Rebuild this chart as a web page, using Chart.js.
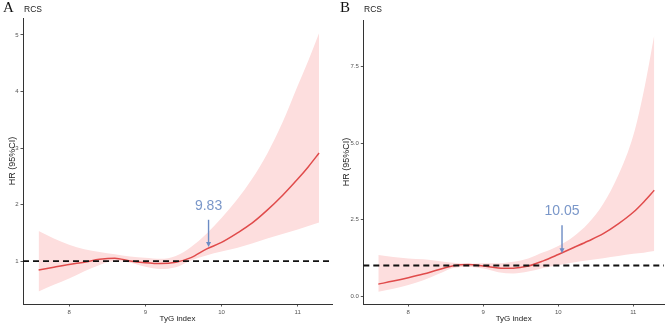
<!DOCTYPE html>
<html>
<head>
<meta charset="utf-8">
<script src="https://cdn.jsdelivr.net/npm/chart.js@4.4.1/dist/chart.umd.min.js"></script>
<style>
body { margin: 0; background: #fff; }
#wrap { position: relative; width: 669px; height: 327px; overflow: hidden; }
canvas { position: absolute; top: 0; }
.panel { position: absolute; top: 0; font-family: "Liberation Serif", serif; font-size: 15px; line-height: 14px; color: #111; }
.tag { position: absolute; top: 5px; font-family: "Liberation Sans", Arial, sans-serif; font-size: 8.5px; line-height: 8px; color: #222; }
</style>
</head>
<body>
<div id="wrap">
  <canvas id="chartA" width="334" height="327" style="left:0px"></canvas>
  <canvas id="chartB" width="335" height="327" style="left:334px"></canvas>
  <div class="panel" style="left:3px">A</div>
  <div class="tag" style="left:24px">RCS</div>
  <div class="panel" style="left:340px">B</div>
  <div class="tag" style="left:364px">RCS</div>
</div>
<script>
// TyG index grid the curves were read on
const tyg = [7.6, 7.8, 8.0, 8.2, 8.4, 8.6, 8.8, 9.0, 9.2, 9.4, 9.6, 9.8, 10.0, 10.2, 10.4, 10.6, 10.8, 11.0, 11.14, 11.28];

// panel A
const hrA    = [0.84, 0.89, 0.94, 0.98, 1.03, 1.05, 1.00, 0.97, 0.955, 0.98, 1.06, 1.21, 1.33, 1.49, 1.67, 1.90, 2.16, 2.45, 2.67, 2.91];
const upperA = [1.53, 1.40, 1.29, 1.21, 1.16, 1.12, 1.08, 1.06, 1.04, 1.09, 1.25, 1.48, 1.76, 2.08, 2.45, 2.90, 3.45, 4.10, 4.55, 5.03];
const lowerA = [0.46, 0.58, 0.69, 0.82, 0.93, 1.00, 0.97, 0.90, 0.86, 0.89, 1.01, 1.10, 1.17, 1.23, 1.31, 1.40, 1.48, 1.56, 1.62, 1.68];

// panel B
const hrB    = [0.39, 0.49, 0.60, 0.72, 0.86, 0.99, 1.03, 0.98, 0.92, 0.91, 0.98, 1.15, 1.36, 1.58, 1.80, 2.04, 2.36, 2.74, 3.08, 3.46];
const upperB = [1.34, 1.28, 1.23, 1.20, 1.15, 1.09, 1.06, 1.07, 1.07, 1.12, 1.23, 1.43, 1.64, 1.94, 2.38, 3.02, 3.95, 5.25, 6.70, 8.53];
const lowerB = [0.14, 0.24, 0.36, 0.52, 0.72, 0.92, 0.95, 0.90, 0.78, 0.74, 0.80, 0.92, 1.01, 1.10, 1.17, 1.24, 1.31, 1.38, 1.42, 1.47];

const xTicks = [8, 9, 10, 11];
const yTicksA = [1, 2, 3, 4, 5];
const yTicksB = [0, 2.5, 5, 7.5];
const refHR = 1;

const cutA = 9.83;
const cutB = 10.05;

const sans = '"Liberation Sans", Arial, sans-serif';

const cutoffPlugin = {
    id: "cutoff",
    afterDatasetsDraw(chart, args, opts) {
        const { ctx, scales: { x, y } } = chart;
        const px = x.getPixelForValue(opts.at);
        const yText = y.getPixelForValue(opts.labelY);
        const y0 = y.getPixelForValue(opts.from);
        const y1 = y.getPixelForValue(opts.to);
        ctx.save();
        ctx.fillStyle = "#7a97c9";
        ctx.font = "14px " + sans;
        ctx.textAlign = "center";
        ctx.textBaseline = "middle";
        ctx.fillText(opts.text, px, yText);
        ctx.strokeStyle = "#6c8bc4";
        ctx.fillStyle = "#6c8bc4";
        ctx.lineWidth = 1.4;
        ctx.beginPath();
        ctx.moveTo(px, y0);
        ctx.lineTo(px, y1 - 4);
        ctx.stroke();
        ctx.beginPath();
        ctx.moveTo(px - 2.5, y1 - 5);
        ctx.lineTo(px + 2.5, y1 - 5);
        ctx.lineTo(px, y1);
        ctx.closePath();
        ctx.fill();
        ctx.restore();
    }
};

function pts(arr) {
    return tyg.map((x, i) => ({ x: x, y: arr[i] }));
}

function makeChart(id, c) {
    return new Chart(document.getElementById(id).getContext("2d"), {
        type: "line",
        data: {
            datasets: [
                {
                    data: [{ x: c.xMin, y: refHR }, { x: c.xMax, y: refHR }],
                    borderColor: "#111",
                    borderWidth: 1.8,
                    borderDash: [6, 4],
                    pointRadius: 0,
                    fill: false
                },
                {
                    data: pts(c.hr),
                    borderColor: "#e04b4b",
                    borderWidth: 1.5,
                    pointRadius: 0,
                    cubicInterpolationMode: "monotone",
                    fill: false
                },
                {
                    data: pts(c.upper),
                    borderColor: "rgba(0,0,0,0)",
                    backgroundColor: "#fddede",
                    pointRadius: 0,
                    cubicInterpolationMode: "monotone",
                    fill: "+1"
                },
                {
                    data: pts(c.lower),
                    borderColor: "rgba(0,0,0,0)",
                    pointRadius: 0,
                    cubicInterpolationMode: "monotone",
                    fill: false
                }
            ]
        },
        options: {
            responsive: false,
            animation: false,
            layout: { padding: { left: 0, right: c.padRight, top: c.padTop, bottom: 0 } },
            plugins: {
                legend: { display: false },
                tooltip: { enabled: false },
                cutoff: c.cutoff
            },
            scales: {
                x: {
                    type: "linear",
                    min: c.xMin,
                    max: c.xMax,
                    border: { display: true, color: "#333", width: 1 },
                    grid: { drawOnChartArea: false, drawTicks: true, tickLength: 2.5, color: "#555" },
                    ticks: { font: { size: 6, family: sans }, color: "#555", padding: 2, maxRotation: 0, autoSkip: false },
                    title: { display: true, text: "TyG index", color: "#222", font: { size: 8, family: sans }, padding: { top: 0, bottom: 3 } },
                    afterBuildTicks: s => { s.ticks = xTicks.map(v => ({ value: v })); },
                    afterFit: s => { s.height = 23; }
                },
                y: {
                    type: "linear",
                    min: c.yMin,
                    max: c.yMax,
                    border: { display: true, color: "#333", width: 1 },
                    grid: { drawOnChartArea: false, drawTicks: true, tickLength: 2.5, color: "#555" },
                    ticks: {
                        font: { size: 6, family: sans },
                        color: "#555",
                        padding: 2,
                        callback: v => c.fmt(v)
                    },
                    title: { display: true, text: "HR (95%CI)", color: "#222", font: { size: 9, family: sans }, padding: { top: 7, bottom: 0 } },
                    afterBuildTicks: s => { s.ticks = c.yTicks.map(v => ({ value: v })); },
                    afterFit: s => { s.width = c.yWidth; }
                }
            }
        },
        plugins: [cutoffPlugin]
    });
}

makeChart("chartA", {
    hr: hrA, upper: upperA, lower: lowerA,
    xMin: 7.395, xMax: 11.45, yMin: 0.24, yMax: 5.3,
    yTicks: yTicksA, fmt: v => String(v),
    yWidth: 23, padRight: 2, padTop: 18,
    cutoff: { at: cutA, text: String(cutA), labelY: 1.97, from: 1.73, to: 1.25 }
});

makeChart("chartB", {
    hr: hrB, upper: upperB, lower: lowerB,
    xMin: 7.40, xMax: 11.41, yMin: -0.26, yMax: 9.03,
    yTicks: yTicksB, fmt: v => v.toFixed(1),
    yWidth: 29.3, padRight: 5, padTop: 20,
    cutoff: { at: cutB, text: cutB.toFixed(2), labelY: 2.78, from: 2.32, to: 1.40 }
});
</script>
</body>
</html>
